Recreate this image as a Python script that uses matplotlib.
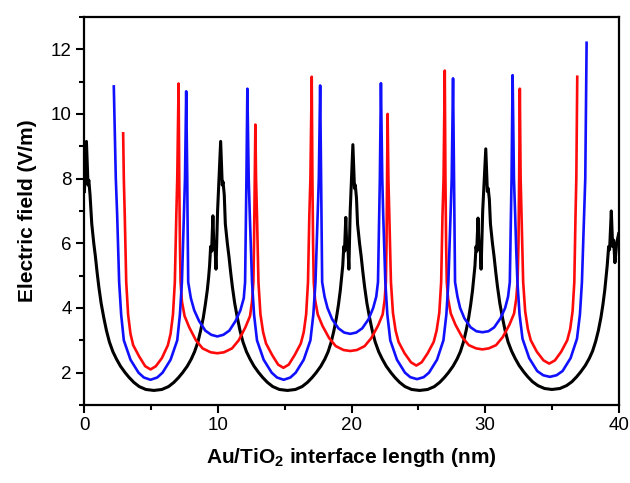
import matplotlib
matplotlib.use( 'Agg' )
import matplotlib.pyplot as plt
from matplotlib.ticker import MultipleLocator

plt.rcParams[ 'font.family' ] = [ 'Liberation Sans', 'DejaVu Sans' ]
plt.rcParams[ 'mathtext.fontset' ] = 'custom'
plt.rcParams[ 'mathtext.bf' ] = 'Liberation Sans:bold'
plt.rcParams[ 'mathtext.rm' ] = 'Liberation Sans'

# black curve: spikes near 0, 10, 20, 30 nm, wide arches in between
black_x = [
    0.0, 0.15, 0.27, 0.33,
    0.42, 0.55, 0.7, 0.82, 0.95, 1.08, 1.25, 1.45, 1.65, 1.87, 2.13, 2.4, 2.7, 3.05, 3.35, 3.7, 4.1, 4.6, 5.2,
    5.8, 6.3, 6.7, 7.05, 7.35, 7.7, 8.0, 8.25, 8.5, 8.7, 8.9, 9.05, 9.2, 9.3, 9.37,
    9.45, 9.52, 9.62, 9.7, 9.77, 9.85, 9.97, 10.2, 10.32, 10.38,
    10.47, 10.55, 10.7, 10.82, 10.95, 11.08, 11.25, 11.45, 11.65, 11.87, 12.13, 12.4, 12.7, 13.05, 13.35, 13.7,
    14.1, 14.6, 15.2,
    15.8, 16.3, 16.7, 17.05, 17.35, 17.7, 18.0, 18.25, 18.48, 18.68, 18.87, 19.02, 19.16, 19.26, 19.34,
    19.42, 19.47, 19.57, 19.65, 19.72, 19.8, 19.9, 20.1, 20.22, 20.28,
    20.37, 20.45, 20.6, 20.72, 20.85, 20.98, 21.15, 21.35, 21.55, 21.77, 22.03, 22.3, 22.6, 22.95, 23.25, 23.6,
    24.0, 24.5, 25.1,
    25.7, 26.2, 26.6, 26.95, 27.25, 27.6, 27.9, 28.15, 28.38, 28.58, 28.77, 28.92, 29.06, 29.16, 29.24,
    29.32, 29.37, 29.47, 29.55, 29.62, 29.7, 29.82, 30.05, 30.17, 30.23,
    30.32, 30.4, 30.55, 30.67, 30.8, 30.93, 31.1, 31.3, 31.5, 31.72, 31.98, 32.25, 32.55, 32.9, 33.2, 33.55,
    33.95, 34.45, 35.0,
    35.6, 36.1, 36.5, 36.85, 37.15, 37.5, 37.8, 38.05, 38.28, 38.48, 38.67, 38.82, 38.96, 39.06, 39.14,
    39.25, 39.32, 39.45, 39.55, 39.62, 39.72, 39.85, 40.0,
]
black_y = [
    7.6, 9.15, 7.8, 7.95,
    7.5, 6.6, 6.0, 5.6, 5.1, 4.65, 4.15, 3.7, 3.3, 2.95, 2.65, 2.42, 2.2, 2.0, 1.85, 1.7, 1.57, 1.48, 1.45,
    1.48, 1.57, 1.7, 1.85, 2.0, 2.2, 2.42, 2.65, 2.95, 3.3, 3.7, 4.1, 4.55, 4.95, 5.3,
    5.9, 5.75, 6.85, 5.8, 6.0, 5.2, 7.0, 9.15, 7.8, 7.9,
    7.5, 6.6, 6.0, 5.6, 5.1, 4.65, 4.15, 3.7, 3.3, 2.95, 2.65, 2.42, 2.2, 2.0, 1.85, 1.7,
    1.57, 1.48, 1.45,
    1.48, 1.57, 1.7, 1.85, 2.0, 2.2, 2.42, 2.65, 2.95, 3.3, 3.7, 4.1, 4.55, 4.95, 5.3,
    5.9, 5.75, 6.8, 5.8, 6.0, 5.2, 7.0, 9.05, 7.7, 7.8,
    7.4, 6.6, 6.0, 5.6, 5.1, 4.65, 4.15, 3.7, 3.3, 2.95, 2.65, 2.42, 2.2, 2.0, 1.85, 1.7,
    1.57, 1.48, 1.45,
    1.48, 1.57, 1.7, 1.85, 2.0, 2.2, 2.42, 2.65, 2.95, 3.3, 3.7, 4.1, 4.55, 4.95, 5.3,
    5.9, 5.75, 6.78, 5.8, 6.0, 5.2, 7.0, 8.92, 7.6, 7.7,
    7.35, 6.6, 6.0, 5.6, 5.1, 4.65, 4.15, 3.7, 3.3, 2.95, 2.67, 2.44, 2.22, 2.02, 1.87, 1.72,
    1.6, 1.51, 1.48,
    1.51, 1.6, 1.72, 1.87, 2.02, 2.22, 2.44, 2.67, 2.97, 3.3, 3.7, 4.1, 4.55, 4.95, 5.3,
    5.9, 5.8, 7.0, 5.9, 6.1, 5.4, 6.0, 6.3,
]

# blue curve
blue_x = [
    2.2, 2.35, 2.45, 2.53, 2.6, 2.75, 2.95, 3.45, 4.05, 4.45, 4.95, 5.45, 5.85, 6.45, 6.95,
    7.15, 7.3, 7.37, 7.45, 7.53, 7.62,
    7.7, 7.72, 7.77, 7.97, 8.22, 8.58, 9.05, 9.5, 9.95, 10.4, 10.85, 11.32, 11.68, 11.93,
    12.03, 12.1, 12.13, 12.2,
    12.3, 12.38, 12.47, 12.55, 12.7, 12.92, 13.42, 14.02, 14.42, 14.92, 15.42, 15.82, 16.42,
    16.92, 17.14, 17.3, 17.38, 17.46, 17.55, 17.65,
    17.72, 17.75, 17.8, 17.98, 18.2, 18.55, 19.02, 19.45, 19.9, 20.35, 20.8, 21.27, 21.62,
    21.85, 21.98, 22.07, 22.12, 22.2,
    22.3, 22.37, 22.45, 22.53, 22.68, 22.9, 23.4, 24.0, 24.4, 24.9, 25.4, 25.8, 26.4,
    26.88, 27.1, 27.25, 27.33, 27.42, 27.5, 27.6,
    27.67, 27.7, 27.75, 27.93, 28.13, 28.45, 28.92, 29.35, 29.8, 30.25, 30.68, 31.15, 31.5,
    31.72, 31.85, 31.93, 31.98, 32.06,
    32.16, 32.25, 32.33, 32.42, 32.58, 32.8, 33.3, 33.9, 34.35, 34.85, 35.35, 35.8, 36.4,
    36.88, 37.1, 37.25, 37.33, 37.42, 37.5, 37.6,
]
blue_y = [
    10.85, 8.0, 6.9, 5.8, 4.8, 3.8, 3.0, 2.4, 2.0, 1.85, 1.78, 1.85, 2.0, 2.4, 3.0,
    3.8, 4.8, 5.8, 6.9, 8.0, 10.7,
    8.0, 6.9, 4.8, 4.3, 3.93, 3.6, 3.3, 3.17, 3.12, 3.17, 3.3, 3.6, 3.93, 4.3,
    4.8, 6.9, 8.0, 10.78,
    8.0, 6.9, 5.8, 4.8, 3.8, 3.0, 2.4, 2.0, 1.85, 1.78, 1.85, 2.0, 2.4,
    3.0, 3.8, 4.8, 5.8, 6.9, 8.0, 10.88,
    8.0, 6.9, 4.8, 4.35, 4.0, 3.65, 3.37, 3.24, 3.2, 3.24, 3.37, 3.65, 4.0,
    4.35, 4.8, 6.9, 8.0, 10.95,
    8.0, 6.9, 5.8, 4.8, 3.8, 3.0, 2.4, 2.0, 1.86, 1.8, 1.86, 2.0, 2.4,
    3.0, 3.8, 4.8, 5.8, 6.9, 8.0, 11.1,
    8.0, 6.9, 4.8, 4.35, 4.0, 3.68, 3.4, 3.28, 3.25, 3.28, 3.4, 3.68, 4.0,
    4.35, 4.8, 6.9, 8.0, 11.2,
    8.0, 6.9, 5.8, 4.8, 3.8, 3.05, 2.45, 2.05, 1.92, 1.87, 1.92, 2.05, 2.45,
    3.05, 3.8, 4.8, 5.8, 6.9, 8.0, 12.2,
]

# red curve
red_x = [
    2.9, 2.95, 3.02, 3.13, 3.27, 3.45, 3.65, 4.1, 4.55, 4.95, 5.35, 5.8, 6.25, 6.45, 6.63,
    6.77, 6.88, 6.95, 7.05,
    7.1, 7.15, 7.2, 7.3, 7.5, 7.85, 8.35, 8.85, 9.45, 9.95, 10.45, 11.05, 11.55, 12.05, 12.4,
    12.55, 12.65, 12.7, 12.75, 12.8,
    12.85, 12.92, 13.03, 13.18, 13.38, 13.6, 14.05, 14.5, 14.9, 15.3, 15.75, 16.2, 16.42,
    16.6, 16.74, 16.84, 16.92, 17.02,
    17.07, 17.12, 17.17, 17.27, 17.47, 17.82, 18.32, 18.82, 19.4, 19.9, 20.4, 20.98, 21.48,
    21.98, 22.33, 22.48, 22.57, 22.62, 22.66, 22.7,
    22.76, 22.83, 22.95, 23.1, 23.3, 23.52, 23.97, 24.45, 24.85, 25.25, 25.7, 26.15, 26.37,
    26.57, 26.71, 26.81, 26.89, 26.98,
    27.03, 27.08, 27.13, 27.23, 27.43, 27.78, 28.28, 28.78, 29.33, 29.8, 30.27, 30.82, 31.32,
    31.82, 32.17, 32.33, 32.43, 32.5, 32.55, 32.6,
    32.66, 32.73, 32.85, 33.0, 33.2, 33.42, 33.87, 34.37, 34.8, 35.23, 35.7, 36.15, 36.37,
    36.55, 36.68, 36.77, 36.83, 36.9,
]
red_y = [
    9.4, 8.0, 6.86, 4.8, 3.8, 3.2, 2.85, 2.5, 2.2, 2.1, 2.2, 2.45, 2.85, 3.2, 3.8,
    4.8, 6.86, 8.0, 10.94,
    8.0, 6.0, 4.8, 4.2, 3.75, 3.4, 3.0, 2.75, 2.63, 2.6, 2.63, 2.75, 3.0, 3.4, 3.75,
    4.2, 4.8, 6.0, 8.0, 9.67,
    8.0, 6.86, 4.8, 3.8, 3.25, 2.9, 2.55, 2.25, 2.15, 2.25, 2.55, 2.9, 3.25,
    3.8, 4.8, 6.86, 8.0, 11.15,
    8.0, 6.0, 4.8, 4.25, 3.8, 3.45, 3.07, 2.82, 2.7, 2.67, 2.7, 2.82, 3.07,
    3.45, 3.8, 4.25, 4.8, 6.0, 8.0, 10.0,
    8.0, 6.86, 4.8, 3.85, 3.3, 2.95, 2.6, 2.32, 2.22, 2.32, 2.6, 2.95, 3.3,
    3.85, 4.8, 6.86, 8.0, 11.34,
    8.0, 6.0, 4.8, 4.28, 3.83, 3.48, 3.1, 2.85, 2.75, 2.72, 2.75, 2.85, 3.1,
    3.48, 3.83, 4.28, 4.8, 6.0, 8.0, 10.78,
    8.0, 6.86, 4.8, 3.9, 3.35, 3.0, 2.65, 2.38, 2.28, 2.38, 2.65, 3.0, 3.35,
    3.9, 4.8, 6.86, 8.0, 11.15,
]

fig = plt.figure( figsize = ( 6.3, 4.83 ), dpi = 100 )
ax = fig.add_axes( [ 0.134, 0.1615, 0.848, 0.8035 ] )

ax.plot( black_x, black_y, color = 'black', lw = 2.2, solid_joinstyle = 'round' )
ax.plot( red_x, red_y, color = '#ff0a0a', lw = 1.9, solid_joinstyle = 'round' )
ax.plot( blue_x, blue_y, color = '#1010ff', lw = 1.9, solid_joinstyle = 'round' )

ax.set_xlim( 0, 40 )
ax.set_ylim( 1, 13 )
ax.xaxis.set_major_locator( MultipleLocator( 10 ) )
ax.xaxis.set_minor_locator( MultipleLocator( 5 ) )
ax.yaxis.set_minor_locator( MultipleLocator( 1 ) )
ax.set_yticks( [ 2, 4, 6, 8, 10, 12 ] )

for s in ax.spines.values():
    s.set_linewidth( 1.6 )
ax.tick_params( which = 'major', direction = 'out', length = 6, width = 1.5, labelsize = 13.5, pad = 3 )
ax.tick_params( which = 'minor', direction = 'out', length = 3.5, width = 1.5 )
ax.tick_params( top = False, right = False, which = 'both' )

ax.set_xlabel( r'Au/TiO$_\mathbf{2}$ interface length (nm)', fontsize = 15, fontweight = 'bold', labelpad = 8 )
ax.set_ylabel( 'Electric field (V/m)', fontsize = 15, fontweight = 'bold', labelpad = 10 )

fig.savefig( 'out.png', dpi = 100 )
plt.close( fig )
